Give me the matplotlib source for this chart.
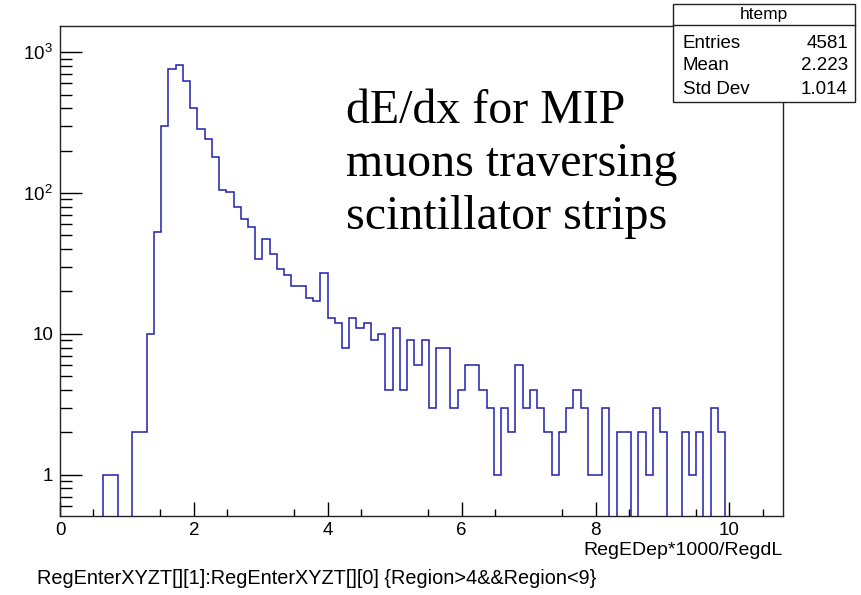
import numpy as np
import matplotlib
matplotlib.use("Agg")
import matplotlib.pyplot as plt
from matplotlib.patches import Rectangle
from matplotlib.lines import Line2D
from matplotlib.ticker import FixedLocator, MultipleLocator, LogLocator, FuncFormatter, NullFormatter

plt.rcParams.update(
    {
        "font.family": ["Liberation Sans", "DejaVu Sans"],
        "mathtext.fontset": "custom",
        "mathtext.rm": "Liberation Sans",
        "mathtext.it": "Liberation Sans",
        "font.size": 13,
    }
)

# histogram: 100 bins from 0 to 10.8 (ROOT auto range)
x_min, x_max, n_bins = 0.0, 10.8, 100
counts = [
    0, 0, 0, 0, 0, 0, 1, 1, 0, 0,
    2, 2, 10, 53, 297, 756, 811, 624, 401, 284,
    242, 179, 105, 101, 80, 65, 57, 34, 47, 37,
    29, 26, 22, 22, 18, 17, 27, 13, 12, 8,
    13, 11, 12, 9, 10, 4, 11, 4, 9, 6,
    9, 3, 8, 8, 3, 4, 6, 6, 4, 3,
    1, 3, 2, 6, 3, 4, 3, 2, 1, 2,
    3, 4, 3, 1, 1, 3, 0, 2, 2, 0,
    2, 1, 3, 2, 0, 0, 2, 1, 2, 0,
    3, 2, 0, 0, 0, 0, 0, 0, 0, 0,
]
stats_names = ["Entries", "Mean", "Std Dev"]
stats_values = ["4581", "2.223", "1.014"]
hist_name = "htemp"
annotation_lines = ["dE/dx for MIP", "muons traversing", "scintillator strips"]
x_label = "RegEDep*1000/RegdL"
draw_cmd = "RegEnterXYZT[][1]:RegEnterXYZT[][0] {Region>4&&Region<9}"

W, H = 861, 595
fig = plt.figure(figsize=(W / 100, H / 100), dpi=100)


def fx(px):
    return px / W


def fy(py):
    return 1 - py / H


ax = fig.add_axes([fx(60), fy(516), fx(783) - fx(60), fy(26) - fy(516)])

edges = np.linspace(x_min, x_max, n_bins + 1)
ax.set_yscale("log")
ax.stairs(np.array(counts, dtype=float), edges, color="#1f1fb0", linewidth=1.1, baseline=None)

ax.set_xlim(x_min, x_max)
ax.set_ylim(10 ** -0.293, 10 ** 3.186)

ax.xaxis.set_major_locator(MultipleLocator(2))
ax.xaxis.set_minor_locator(FixedLocator(np.arange(0.5, 10.8, 1.0)))
ax.yaxis.set_major_locator(LogLocator(base=10))
ax.yaxis.set_minor_locator(LogLocator(base=10, subs=np.arange(2, 10)))
ax.yaxis.set_minor_formatter(NullFormatter())


def ylab(v, pos):
    e = int(round(np.log10(v)))
    if e == 0:
        return "1"
    if e == 1:
        return "10"
    return r"$10^{%d}$" % e


ax.yaxis.set_major_formatter(FuncFormatter(ylab))

ax.tick_params(axis="x", which="major", direction="in", length=10, width=1, pad=4, labelsize=13.5)
ax.tick_params(axis="x", which="minor", direction="in", length=5, width=1)
ax.tick_params(axis="y", which="major", direction="in", length=16, width=1, pad=5, labelsize=13.5)
ax.tick_params(axis="y", which="minor", direction="in", length=8.5, width=1)
ax.tick_params(top=False, right=False, which="both")
for s in ax.spines.values():
    s.set_linewidth(1)
    s.set_color("#222222")

ax.set_xlabel(x_label, fontsize=14, ha="right")
ax.xaxis.set_label_coords(1.0, -0.054)

# stats box
bx0, bx1, by0, by1, byh = 673, 855, 4, 102, 25
fig.add_artist(Rectangle((fx(bx0), fy(by1)), fx(bx1) - fx(bx0), fy(by0) - fy(by1),
                         transform=fig.transFigure, facecolor="white", edgecolor="#222222", linewidth=1))
fig.add_artist(Line2D([fx(bx0), fx(bx1)], [fy(byh), fy(byh)], transform=fig.transFigure,
                      color="#222222", linewidth=1))
fig.text(fx((bx0 + bx1) / 2), fy(15), hist_name, ha="center", va="center", fontsize=12.5)
for i, (n, v) in enumerate(zip(stats_names, stats_values)):
    yy = fy(43 + i * 23)
    fig.text(fx(683), yy, n, ha="left", va="center", fontsize=13.5)
    fig.text(fx(848), yy, v, ha="right", va="center", fontsize=13.5)

# annotation
for i, line in enumerate(annotation_lines):
    fig.text(fx(346), fy(123 + i * 53), line, ha="left", va="baseline",
             fontsize=34.5, family="Liberation Serif")

fig.text(fx(37), fy(584), draw_cmd, ha="left", va="baseline", fontsize=14.3)

fig.savefig("out.png", dpi=100)
